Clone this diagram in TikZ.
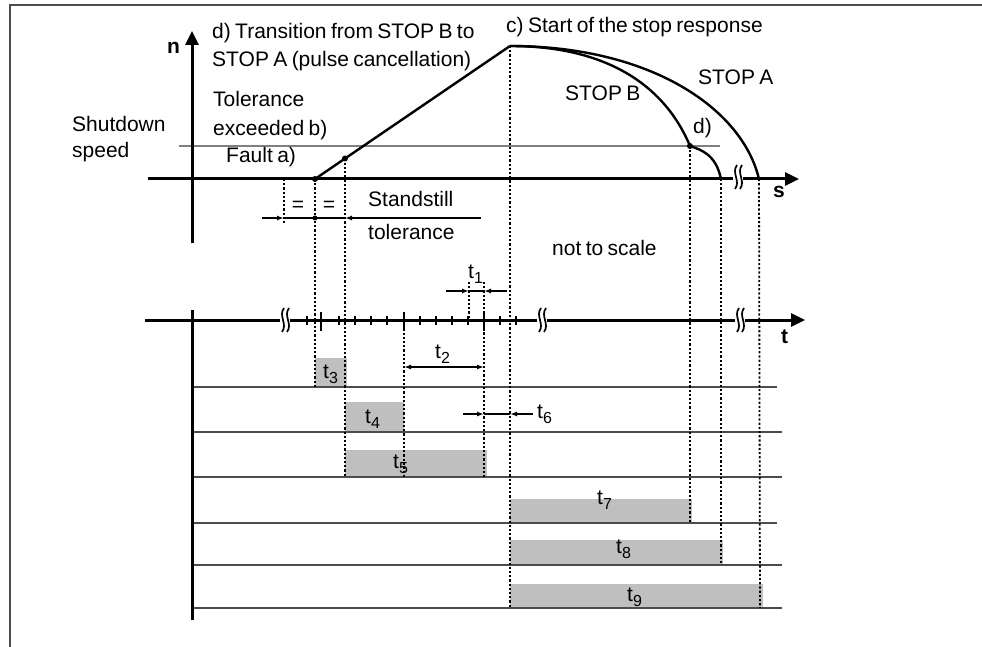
\documentclass[tikz,border=0pt]{standalone}
\usepackage{fontspec}
\setmainfont{Liberation Sans}[WordSpace=0.75]
\usetikzlibrary{arrows.meta}
\newcommand\tsb[2]{#1\raisebox{-5pt}{\fontsize{16}{16}\selectfont #2}}
\tikzset{
  breakmark/.pic={
    \fill[white] (-5,-3) rectangle (5,3);
    \draw[line width=1.7pt] (-1,-12) .. controls (-7,-4) and (3,4) .. (-3,12);
    \draw[line width=1.7pt] (4,-12) .. controls (-2,-4) and (8,4) .. (2,12);
  }
}
\begin{document}
\begin{tikzpicture}[x=1pt,y=-1pt,
  every node/.style={font=\fontsize{21}{25}\selectfont, inner sep=0pt},
  axis/.style={line width=3pt, -{Triangle[length=14pt,width=13pt]}},
  vaxis/.style={line width=3pt},
  curve/.style={line width=2.4pt},
  dots/.style={line width=1.8pt, dash pattern=on 2.2pt off 2pt},
  grayline/.style={line width=1.5pt, draw=black!50},
  rowline/.style={line width=1.5pt, draw=black!70},
  dim/.style={line width=1.5pt},
  dimarrow/.style={line width=1.5pt, -{Latex[length=7pt,width=5pt]}},
  box/.style={fill=black!25, draw=none},
  lbl/.style={anchor=base west},
  dot/.style={circle, fill=black, minimum size=6pt, inner sep=0pt},
  smalltick/.style={line width=2.6pt},
]
\useasboundingbox (0,0) rectangle (982,647);
% frame
\draw[line width=2pt, draw=black!70] (9.5,647) -- (9.5,5.5) -- (982,5.5);

% boxes
\fill[box] (315,358) rectangle (347,387);
\fill[box] (345,402) rectangle (404,432);
\fill[box] (345,450) rectangle (487,477);
\fill[box] (510,499) rectangle (692,523);
\fill[box] (510,540) rectangle (723,565);
\fill[box] (510,584) rectangle (763,608);

% row lines
\draw[rowline] (192,387) -- (777,387);
\draw[rowline] (192,432) -- (782,432);
\draw[rowline] (192,477) -- (782,477);
\draw[rowline] (192,523) -- (777,523);
\draw[rowline] (192,565) -- (782,565);
\draw[rowline] (192,608) -- (782,608);

% key coordinates
\coordinate (F) at (315,179);
\coordinate (B) at (345,158.5);
\coordinate (P) at (510,46);
\coordinate (D) at (690,146);
\coordinate (EB) at (721,179);
\coordinate (EA) at (759,179);

% dotted verticals
\draw[dots] (284,179) -- (284,223);
\draw[dots] (F) -- (315,387);
\draw[dots] (B) -- (345,477);
\draw[dots] (404,320) -- (404,477);
\draw[dots] (469,282) -- (469,320);
\draw[dots] (484,282) -- (484,477);
\draw[dots] (P) -- (510,608);
\draw[dots] (D) -- (690,523);
\draw[dots] (EB) -- (721,565);
\draw[dots] (EA) -- (760,608);

% shutdown speed line
\draw[grayline] (179,146) -- (720,146);

% axes
\draw[axis] (192,243) -- (192,31);
\draw[axis] (148,179) -- (799,179);
\draw[axis] (145,320) -- (805,320);
\draw[vaxis] (192,310) -- (192,620);

% ticks
\foreach \x in {307,339,355,371,387,420,436,452,468,500,516}
  \draw[smalltick] (\x,316) -- (\x,325);
\foreach \x in {321,404,484}
  \draw[smalltick] (\x,312) -- (\x,331);

% breaks
\pic at (738,177) {breakmark};
\pic at (285,320) {breakmark};
\pic at (542,320) {breakmark};
\pic at (740,320) {breakmark};

% curves
\draw[curve] (F) -- (P);
\draw[curve] (P) .. controls (650,46) and (742,108) .. (EA);
\draw[curve] (P) .. controls (605,46) and (664,84) .. (D)
  .. controls (702,150) and (716,155) .. (EB);
\node[dot] at (F) {};
\node[dot] at (B) {};
\node[dot] at (D) {};

% standstill tolerance dimension
\coordinate (S1) at (284,218);
\coordinate (S2) at (345,218);
\draw[dimarrow] (262,218) -- (S1);
\draw[dim] (S1) -- (S2);
\draw[dimarrow] (481,218) -- (S2);
\node[dot, minimum size=5pt] at (315,218) {};
\node at (298,206) {=};
\node at (329,206) {=};

% t1, t2, t6 dimensions
\draw[dimarrow] (446,291) -- (469,291);
\draw[dim] (469,291) -- (484,291);
\draw[dimarrow] (507,291) -- (484,291);
\draw[dim, {Latex[length=7pt,width=5pt]}-{Latex[length=7pt,width=5pt]}] (404,367) -- (484,367);
\draw[dimarrow] (463,414) -- (484,414);
\draw[dim] (484,414) -- (510,414);
\draw[dimarrow] (533,414) -- (510,414);

% axis labels
\node[lbl] at (167,54) {\bfseries n};
\node[lbl] at (773,197) {\bfseries s};
\node[lbl] at (781,343) {\bfseries t};

% texts
\node[lbl] at (212,39) {d) Transition from STOP B to};
\node[lbl] at (212,67) {STOP A (pulse cancellation)};
\node[lbl] at (506,33) {c) Start of the stop response};
\node[lbl] at (565,101) {STOP B};
\node[lbl] at (698,85) {STOP A};
\node[lbl] at (693,134) {d)};
\node[lbl] at (213,107) {Tolerance};
\node[lbl] at (213,136) {exceeded b)};
\node[lbl] at (72,132) {Shutdown};
\node[lbl] at (72,158) {speed};
\node[lbl] at (226,163) {Fault a)};
\node[lbl] at (368,207) {Standstill};
\node[lbl] at (368,240) {tolerance};
\node[lbl] at (552,255) {not to scale};

% time labels
\node[lbl] at (468,278) {\tsb{t}{1}};
\node[lbl] at (435,358) {\tsb{t}{2}};
\node[lbl] at (323,378) {\tsb{t}{3}};
\node[lbl] at (365,423) {\tsb{t}{4}};
\node[lbl] at (393,468) {\tsb{t}{5}};
\node[lbl] at (537,418) {\tsb{t}{6}};
\node[lbl] at (597,504) {\tsb{t}{7}};
\node[lbl] at (616,553) {\tsb{t}{8}};
\node[lbl] at (627,601) {\tsb{t}{9}};
\end{tikzpicture}
\end{document}
